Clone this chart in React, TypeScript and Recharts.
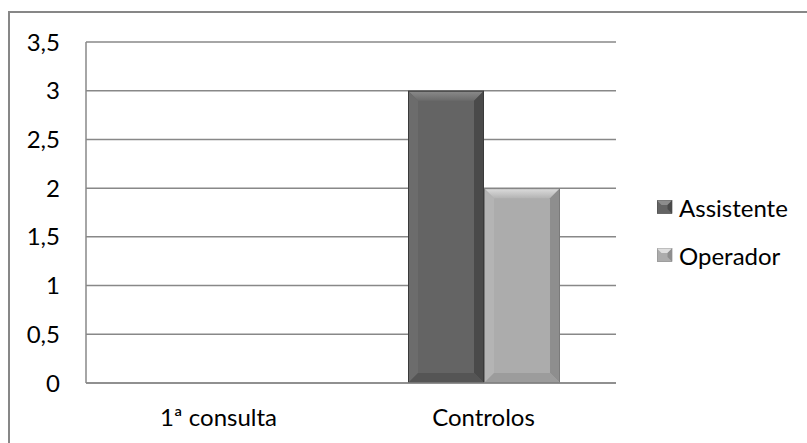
import React from 'react';
import { BarChart, Bar, XAxis, YAxis, CartesianGrid } from 'recharts';

const categories = ['1ª consulta', 'Controlos'];
const assistente = [0, 3];
const operador = [0, 2];
const yTicks = [0, 0.5, 1, 1.5, 2, 2.5, 3, 3.5];

const chartData = categories.map((name, i) => ({
  name,
  Assistente: assistente[i],
  Operador: operador[i],
}));

const FONT = 'Lato, "Open Sans", sans-serif';

type Shade = { base: string; top: string; topEnd: string; left: string; right: string; bottom: string; edge: string };

const shades: Record<string, Shade> = {
  Assistente: { base: '#646464', top: '#8c8c8c', topEnd: '#6a6a6a', left: '#6c6c6c', right: '#4a4a4a', bottom: '#555555', edge: '#3a3a3a' },
  Operador: { base: '#acacac', top: '#dedede', topEnd: '#b4b4b4', left: '#b4b4b4', right: '#8e8e8e', bottom: '#9c9c9c', edge: '#7a7a7a' },
};

// bevelled bar, lit from the top
function BevelBar(props: any) {
  const { x, y, width, height, dataKey } = props;
  if (!height || height <= 0) return null;
  const s = shades[dataKey];
  const b = Math.min(10, height / 2);
  const x2 = x + width;
  const y2 = y + height;
  const gid = `top-${dataKey}`;
  return (
    <g>
      <defs>
        <linearGradient id={gid} x1="0" y1="0" x2="0" y2="1">
          <stop offset="0%" stopColor={s.top} />
          <stop offset="100%" stopColor={s.topEnd} />
        </linearGradient>
      </defs>
      <rect x={x} y={y} width={width} height={height} fill={s.base} />
      <polygon points={`${x},${y} ${x2},${y} ${x2 - b},${y + b} ${x + b},${y + b}`} fill={`url(#${gid})`} />
      <polygon points={`${x},${y} ${x + b},${y + b} ${x + b},${y2 - b} ${x},${y2}`} fill={s.left} />
      <polygon points={`${x2},${y} ${x2 - b},${y + b} ${x2 - b},${y2 - b} ${x2},${y2}`} fill={s.right} />
      <polygon points={`${x},${y2} ${x + b},${y2 - b} ${x2 - b},${y2 - b} ${x2},${y2}`} fill={s.bottom} />
      <rect x={x + 0.5} y={y + 0.5} width={width - 1} height={height - 1} fill="none" stroke={s.edge} strokeWidth={1} />
    </g>
  );
}

const legendItems = ['Assistente', 'Operador'];

function LegendBox() {
  return (
    <div style={{ position: 'absolute', left: 657, top: 194, fontFamily: FONT, fontSize: 24, color: '#000' }}>
      {legendItems.map((key, i) => {
        const s = shades[key];
        return (
          <div key={key} style={{ display: 'flex', alignItems: 'center', height: 26, marginBottom: i === 0 ? 22 : 0 }}>
            <svg width={19} height={14} style={{ marginRight: 3 }}>
              <rect x={0} y={0.5} width={15} height={13} fill={s.base} stroke={s.edge} strokeWidth={0.6} />
              <polygon points="0,0.5 15,0.5 10.5,5 4.5,5" fill={s.top} />
              <polygon points="15,0.5 15,13.5 10.5,9 10.5,5" fill={s.right} />
            </svg>
            <span>{key}</span>
          </div>
        );
      })}
    </div>
  );
}

export default function App() {
  return (
    <div style={{ position: 'absolute', left: 0, top: 0, width: 807, height: 443, overflow: 'hidden', background: '#fff' }}>
      <div style={{ position: 'absolute', left: 8, top: 11, width: 830, height: 460, border: '2px solid #878787' }} />
      <div style={{ position: 'absolute', left: 0, top: 0 }}>
        <BarChart
          width={807}
          height={443}
          data={chartData}
          margin={{ top: 42, right: 191, bottom: 30, left: 0 }}
          barSize={76}
          barGap={0}
        >
          <CartesianGrid horizontal vertical={false} stroke="#888888" strokeWidth={1.5} />
          <XAxis
            dataKey="name"
            height={30}
            tickLine={false}
            axisLine={{ stroke: '#888888', strokeWidth: 1.5 }}
            tick={{ fill: '#000', fontSize: 24, fontFamily: FONT }}
            tickMargin={20}
          />
          <YAxis
            width={86}
            domain={[0, 3.5]}
            ticks={yTicks}
            interval={0}
            tickLine={false}
            axisLine={{ stroke: '#888888', strokeWidth: 1.5 }}
            tickFormatter={(v: number) => String(v).replace('.', ',')}
            tick={{ fill: '#000', fontSize: 24, fontFamily: FONT }}
            tickMargin={20}
          />
          <Bar dataKey="Assistente" shape={<BevelBar dataKey="Assistente" />} isAnimationActive={false} />
          <Bar dataKey="Operador" shape={<BevelBar dataKey="Operador" />} isAnimationActive={false} />
        </BarChart>
      </div>
      <LegendBox />
    </div>
  );
}
